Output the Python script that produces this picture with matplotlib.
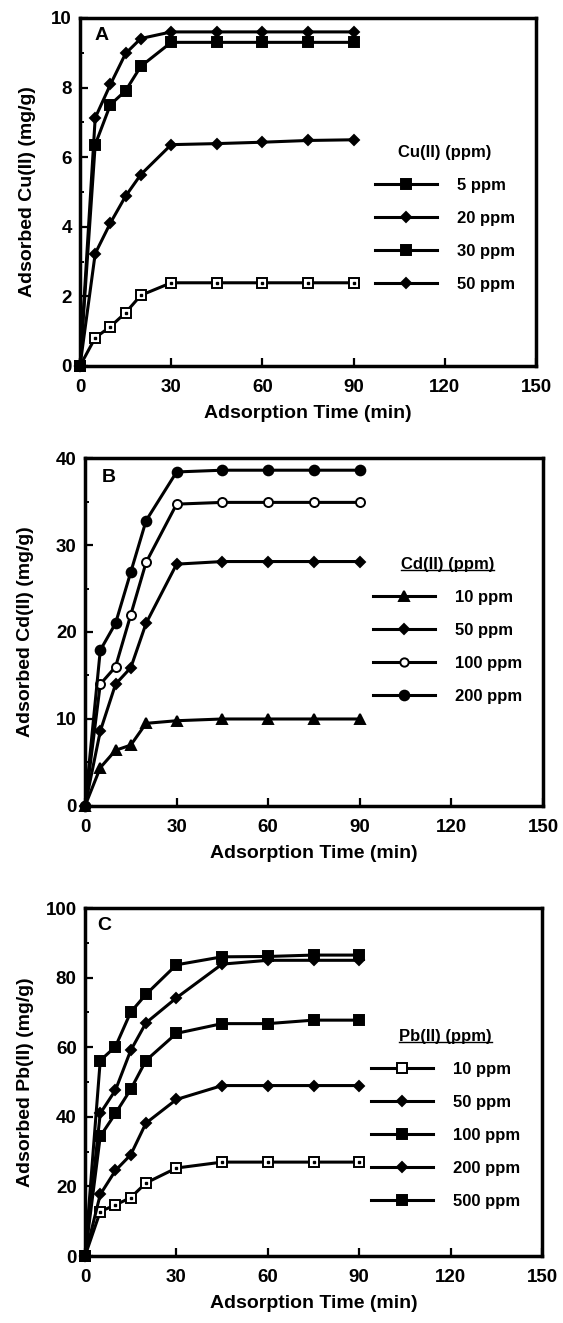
import matplotlib
matplotlib.use("Agg")
import matplotlib.pyplot as plt
from matplotlib.lines import Line2D
from matplotlib.ticker import MultipleLocator

plt.rcParams['font.family'] = ['Liberation Sans', 'DejaVu Sans']

time = [0, 5, 10, 15, 20, 30, 45, 60, 75, 90]

# Panel A: Cu(II)
cu_labels = ["5 ppm", "20 ppm", "30 ppm", "50 ppm"]
cu_5 = [0, 0.81, 1.13, 1.53, 2.03, 2.39, 2.39, 2.39, 2.39, 2.39]
cu_20 = [0, 3.23, 4.11, 4.88, 5.50, 6.36, 6.39, 6.43, 6.48, 6.50]
cu_30 = [0, 6.36, 7.51, 7.91, 8.61, 9.30, 9.30, 9.30, 9.30, 9.30]
cu_50 = [0, 7.13, 8.09, 8.98, 9.41, 9.60, 9.60, 9.60, 9.60, 9.60]

# Panel B: Cd(II)
cd_labels = ["10 ppm", "50 ppm", "100 ppm", "200 ppm"]
cd_10 = [0, 4.4, 6.4, 7.0, 9.5, 9.8, 10.0, 10.0, 10.0, 10.0]
cd_50 = [0, 8.6, 14.0, 15.9, 21.0, 27.8, 28.1, 28.1, 28.1, 28.1]
cd_100 = [0, 14.0, 16.0, 22.0, 28.0, 34.7, 34.9, 34.9, 34.9, 34.9]
cd_200 = [0, 17.9, 21.0, 26.9, 32.8, 38.4, 38.6, 38.6, 38.6, 38.6]

# Panel C: Pb(II)
pb_labels = ["10 ppm", "50 ppm", "100 ppm", "200 ppm", "500 ppm"]
pb_10 = [0, 12.8, 14.7, 16.8, 21.0, 25.3, 27.0, 27.0, 27.0, 27.0]
pb_50 = [0, 17.7, 24.6, 29.1, 38.2, 45.0, 49.0, 49.0, 49.0, 49.0]
pb_100 = [0, 34.4, 41.0, 47.9, 56.2, 64.0, 66.8, 66.8, 67.8, 67.8]
pb_200 = [0, 41.0, 47.7, 59.1, 67.0, 74.2, 83.9, 85.0, 85.0, 85.0]
pb_500 = [0, 56.2, 60.2, 70.1, 75.2, 83.7, 86.0, 86.1, 86.5, 86.5]

xticks = [0, 30, 60, 90, 120, 150]

fig = plt.figure(figsize=(5.63, 13.23), dpi=100)
axA = fig.add_axes([0.1421, 0.7234, 0.810, 0.2630])
axB = fig.add_axes([0.1510, 0.3908, 0.8135, 0.2630])
axC = fig.add_axes([0.1510, 0.0506, 0.8117, 0.2630])

LW = 2.2
TFS = 13.5
LFS = 14
LEGFS = 12


def style(ax, ymax, ymaj, ylabel, letter, lx, ly, ylab_x):
    ax.set_xlim(0, 150)
    ax.set_ylim(0, ymax)
    ax.set_xticks(xticks)
    ax.yaxis.set_major_locator(MultipleLocator(ymaj))
    ax.yaxis.set_minor_locator(MultipleLocator(ymaj / 2))
    ax.tick_params(axis='both', which='major', direction='in', length=5.5, width=1.6,
                   labelsize=TFS, top=False, right=False)
    ax.tick_params(axis='y', which='major', pad=6)
    ax.tick_params(axis='x', which='major', pad=9.5)
    ax.tick_params(axis='y', which='minor', direction='in', length=2.8, width=1.4, right=False)
    for lab in ax.get_xticklabels() + ax.get_yticklabels():
        lab.set_fontweight('bold')
    for s in ax.spines.values():
        s.set_linewidth(2.5)
    ax.set_xlabel("Adsorption Time (min)", fontsize=LFS, fontweight='bold', labelpad=6.5)
    ax.set_ylabel(ylabel, fontsize=LFS, fontweight='bold')
    ax.yaxis.set_label_coords(ylab_x, 0.5)
    ax.text(lx, ly, letter, transform=ax.transAxes, fontsize=LFS, fontweight='bold',
            va='center', ha='center')


def series(ax, y, marker, ms, mfc='black', dot=False):
    ax.plot(time, y, color='black', lw=LW, marker=marker, ms=ms, mfc=mfc, mec='black',
            mew=1.4, clip_on=False, zorder=3)
    if dot:
        ax.plot(time, y, ls='none', marker='s', ms=2, mfc='black', mec='black',
                clip_on=False, zorder=4)


def handle(marker, ms, mfc='black'):
    return Line2D([], [], color='black', lw=LW, marker=marker, ms=ms, mfc=mfc,
                  mec='black', mew=1.4)


def make_legend(ax, handles, labels, title, x, y):
    leg = ax.legend(handles, labels, title=title, loc='upper left', bbox_to_anchor=(x, y),
                    frameon=False, borderpad=0, borderaxespad=0, handlelength=3.7,
                    handletextpad=1.2, labelspacing=1.08, fontsize=LEGFS,
                    title_fontsize=LEGFS, markerscale=1.0)
    for t in leg.get_texts():
        t.set_fontweight('bold')
    leg.get_title().set_fontweight('bold')
    return leg


# Panel A
series(axA, cu_5, 's', 6.5, mfc='white', dot=True)
series(axA, cu_20, 'D', 5.5)
series(axA, cu_30, 's', 6.5)
series(axA, cu_50, 'D', 5.5)
style(axA, 10, 2, "Adsorbed Cu(II) (mg/g)", "A", 0.048, 0.951, -0.0965)
legA = make_legend(axA, [handle('s', 6.5), handle('D', 5), handle('s', 6.5), handle('D', 5)],
                   cu_labels, "Cu(II) (ppm)", 0.647, 0.635)

# Panel B
series(axB, cd_10, '^', 7)
series(axB, cd_50, 'D', 5.5)
series(axB, cd_100, 'o', 6.5, mfc='white')
series(axB, cd_200, 'o', 7)
style(axB, 40, 10, "Adsorbed Cd(II) (mg/g)", "B", 0.052, 0.943, -0.111)
legB = make_legend(axB, [handle('^', 7), handle('D', 5), handle('o', 6, 'white'), handle('o', 7)],
                   cd_labels, "Cd(II) (ppm)", 0.629, 0.716)

# Panel C
series(axC, pb_10, 's', 6.5, mfc='white', dot=True)
series(axC, pb_50, 'D', 5.5)
series(axC, pb_100, 's', 6.5)
series(axC, pb_200, 'D', 5.5)
series(axC, pb_500, 's', 6.5)
style(axC, 100, 20, "Adsorbed Pb(II) (mg/g)", "C", 0.042, 0.951, -0.112)
legC = make_legend(axC, [handle('s', 6.5, 'white'), handle('D', 5), handle('s', 6.5),
                         handle('D', 5), handle('s', 6.5)],
                   pb_labels, "Pb(II) (ppm)", 0.626, 0.652)

# underline legend titles in B and C
fig.canvas.draw()
inv = fig.transFigure.inverted()
for leg in (legB, legC):
    bb = leg.get_title().get_window_extent()
    (x0, y0), (x1, _) = inv.transform([(bb.x0, bb.y0), (bb.x1, bb.y1)])
    fig.add_artist(Line2D([x0, x1], [y0 + 0.0015, y0 + 0.0015], transform=fig.transFigure,
                          color='black', lw=1.0))

fig.savefig("out.png", dpi=100)
